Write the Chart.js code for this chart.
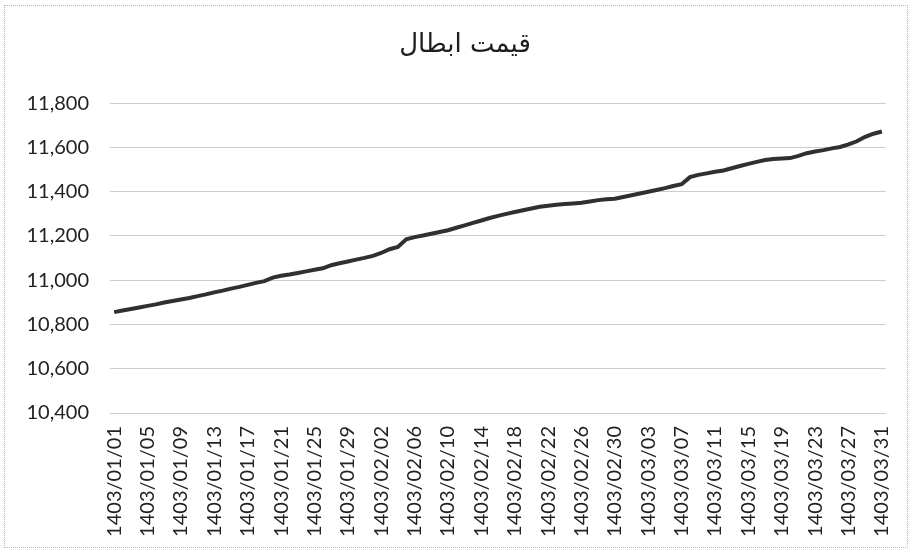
<!DOCTYPE html>
<html>
<head>
<meta charset="utf-8">
<script src="https://cdn.jsdelivr.net/npm/chart.js@4.4.0/dist/chart.umd.min.js"></script>
<style>
  html, body { margin: 0; padding: 0; background: #fff; }
  #wrap { position: relative; width: 911px; height: 551px; }
  #frame { position: absolute; left: 4px; top: 5px; right: 3px; bottom: 3px; border: 1px dotted #b8b8b8; pointer-events: none; }
</style>
</head>
<body>
<div id="wrap">
  <canvas id="chart" width="911" height="551"></canvas>
  <div id="frame"></div>
</div>
<script>
// dates 1403/01/01 .. 1403/03/31 (one row per day)
const months = ['01', '02', '03'];
const daysInMonth = [31, 31, 31];
const title = 'قیمت ابطال';

const prices = [
    10856, 10863, 10870, 10877, 10884, 10891, 10899, 10906, 10913, 10920,
    10928, 10936, 10945, 10953, 10962, 10970, 10979, 10988, 10996, 11012,
    11020, 11026, 11033, 11040, 11047, 11054, 11068, 11077, 11085, 11093,
    11101, 11110, 11123, 11140, 11150, 11185, 11195, 11202, 11210, 11218,
    11226, 11237, 11248, 11259, 11270, 11281, 11291, 11300, 11308, 11316,
    11324, 11332, 11337, 11341, 11344, 11347, 11350, 11356, 11362, 11366,
    11368, 11376, 11384, 11392, 11400, 11408, 11416, 11426, 11434, 11466,
    11476, 11483, 11490, 11496, 11506, 11516, 11526, 11535, 11543, 11548,
    11550, 11552, 11562, 11574, 11582, 11588, 11596, 11602, 11614, 11628,
    11648, 11662, 11672
];

const yMin = 10400;
const yMax = 11800;
const yStep = 200;

const labels = [];
months.forEach((m, mi) => {
    for (let d = 1; d <= daysInMonth[mi]; d++) {
        labels.push('1403/' + m + '/' + String(d).padStart(2, '0'));
    }
});

// title in the original sits a bit right of the canvas centre
const shiftTitle = {
    id: 'shiftTitle',
    afterLayout(chart) {
        chart.titleBlock.left += 38;
    }
};

const ctx = document.getElementById('chart').getContext('2d');
new Chart(ctx, {
    type: 'line',
    data: {
        labels: labels,
        datasets: [{
            data: prices,
            borderColor: '#303030',
            borderWidth: 4,
            pointRadius: 0,
            tension: 0,
            fill: false
        }]
    },
    options: {
        responsive: false,
        animation: false,
        layout: { padding: { left: 0, right: 19, top: 0, bottom: 0 } },
        plugins: {
            legend: { display: false },
            tooltip: { enabled: false },
            title: {
                display: true,
                text: title,
                color: '#1e1e1e',
                font: { family: 'DejaVu Sans', size: 26, weight: 'normal' },
                padding: { top: 30, bottom: 42 }
            }
        },
        scales: {
            x: {
                offset: true,
                grid: { display: false },
                border: { display: false },
                afterFit: (scale) => { scale.height = 138; },
                ticks: {
                    autoSkip: false,
                    minRotation: 90,
                    maxRotation: 90,
                    padding: 5,
                    color: '#222',
                    font: { family: 'Lato', size: 20 },
                    callback: function (val, i) {
                        return i % 4 === 0 ? this.getLabelForValue(val) : '';
                    }
                }
            },
            y: {
                min: yMin,
                max: yMax,
                grid: { color: '#cccccc', lineWidth: 1, drawTicks: false },
                border: { display: false },
                afterFit: (scale) => { scale.width = 110; },
                ticks: {
                    stepSize: yStep,
                    padding: 21,
                    color: '#222',
                    font: { family: 'Lato', size: 20 },
                    callback: (v) => v.toLocaleString('en-US')
                }
            }
        }
    },
    plugins: [shiftTitle]
});
</script>
</body>
</html>
